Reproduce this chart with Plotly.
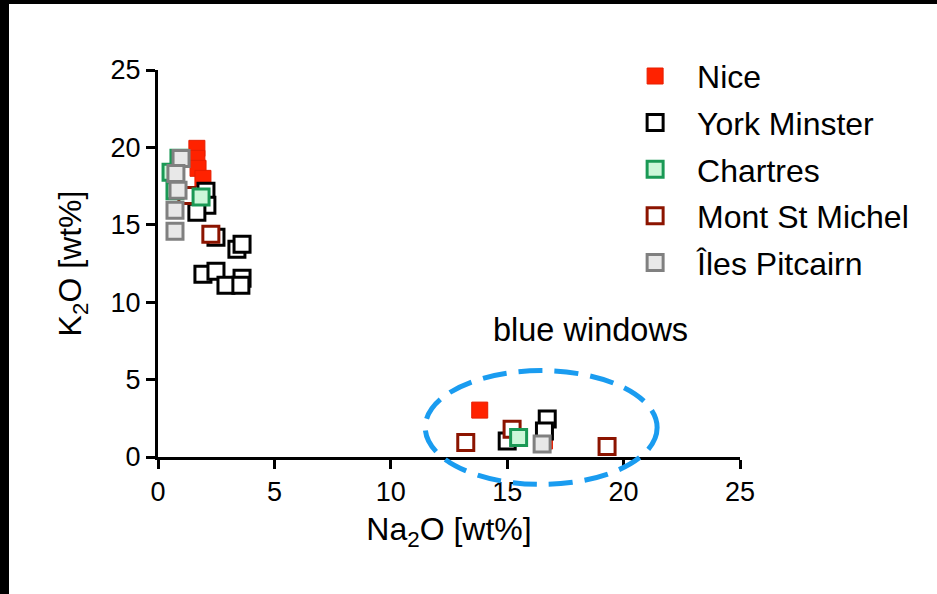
import plotly.graph_objects as go

# ---- data ----
nice_x = [1.67, 1.67, 1.72, 1.93, 13.82, 16.6]
nice_y = [19.94, 19.29, 18.65, 18.0, 3.03, 1.03]

york_x = [2.06, 2.10, 1.67, 2.49, 3.39, 3.61, 1.93, 2.49, 2.92, 3.61, 3.56, 15.0, 16.72, 16.6]
york_y = [17.16, 16.26, 15.81, 14.19, 13.42, 13.74, 11.81, 12.0, 11.1, 11.55, 11.1, 1.03, 2.45, 1.68]

chartres_x = [0.9, 0.56, 0.73, 1.85, 15.49]
chartres_y = [19.3, 18.4, 17.2, 16.8, 1.26]

msm_x = [1.24, 2.27, 13.22, 15.21, 19.29]
msm_y = [16.9, 14.39, 0.94, 1.8, 0.68]

pit_x = [0.99, 0.77, 0.86, 0.73, 0.73, 16.5]
pit_y = [19.29, 18.32, 17.23, 15.94, 14.58, 0.84]

tick_vals = [0, 5, 10, 15, 20, 25]
tick_text = ["0", "5", "10", "15", "20", "25"]

# "blue windows" ellipse, in data units
ellipse_x = [11.48, 21.44]
ellipse_y = [-1.77, 5.58]

X_RANGE = [0, 25]
Y_RANGE = [0, 25]

FONT = "Liberation Sans, Arial, sans-serif"

series = [
    # name, x, y, fill, line colour, line width, legend rank
    ("Nice", nice_x, nice_y, "#ff2200", "#e61e00", 1, 1),
    ("York Minster", york_x, york_y, "#ffffff", "#000000", 3, 2),
    ("Mont St Michel", msm_x, msm_y, "#ffffff", "#8c1400", 3, 4),
    ("Chartres", chartres_x, chartres_y, "#ccf7d9", "#1a9955", 3, 3),
    ("Îles Pitcairn", pit_x, pit_y, "#e8e8e8", "#808080", 3, 5),
]

fig = go.Figure()
for name, xs, ys, fill, lc, lw, rank in series:
    fig.add_trace(go.Scatter(
        x=xs, y=ys, mode="markers", name=name,
        legendgroup=name, legendrank=rank,
        cliponaxis=False,
        marker=dict(symbol="square", size=16, color=fill,
                    line=dict(color=lc, width=lw)),
    ))

axis_common = dict(
    tickvals=tick_vals, ticktext=tick_text,
    showline=True, linewidth=3, linecolor="black",
    ticks="outside", ticklen=9, tickwidth=3, tickcolor="black",
    showgrid=False, zeroline=False,
    tickfont=dict(family=FONT, size=27, color="black"),
)


def to_paper(v, rng):
    return (v - rng[0]) / (rng[1] - rng[0])


fig.update_layout(
    width=937, height=594,
    margin=dict(l=158, r=197, t=70, b=137),
    paper_bgcolor="white", plot_bgcolor="white",
    font=dict(family=FONT, color="black"),
    xaxis=dict(axis_common, range=X_RANGE,
               title=dict(text="Na<sub>2</sub>O [wt%]", font=dict(size=32), standoff=12)),
    yaxis=dict(axis_common, range=Y_RANGE,
               title=dict(text="K<sub>2</sub>O [wt%]", font=dict(size=32), standoff=20)),
    showlegend=True,
    legend=dict(x=0.782, y=1.055, xanchor="left", yanchor="top",
                font=dict(family=FONT, size=32, color="black"),
                bgcolor="rgba(0,0,0,0)", itemwidth=74, tracegroupgap=2),
    annotations=[dict(x=18.58, y=8.2, xref="x", yref="y", text="blue windows",
                      showarrow=False, font=dict(family=FONT, size=32.5, color="black"))],
    shapes=[
        # ellipse placed through the axis ranges (paper refs so it is not clipped at y=0)
        dict(type="circle", xref="paper", yref="paper",
             x0=to_paper(ellipse_x[0], X_RANGE), x1=to_paper(ellipse_x[1], X_RANGE),
             y0=to_paper(ellipse_y[0], Y_RANGE), y1=to_paper(ellipse_y[1], Y_RANGE),
             line=dict(color="#1a9cf0", width=5, dash="24px,12px"), layer="above"),
        # black frame strips at top and left edge of the picture
        dict(type="rect", xref="paper", yref="paper", x0=-0.4, x1=(9 - 158) / 582,
             y0=-0.5, y1=1.5, fillcolor="black", line=dict(width=0), layer="below"),
        dict(type="rect", xref="paper", yref="paper", x0=-0.4, x1=1.5,
             y0=(457 - 4) / 387, y1=1.5, fillcolor="black", line=dict(width=0), layer="below"),
    ],
)

fig.write_html("out.html", config={"displayModeBar": False},
               post_script="document.body.style.margin='0';document.body.style.padding='0';")
